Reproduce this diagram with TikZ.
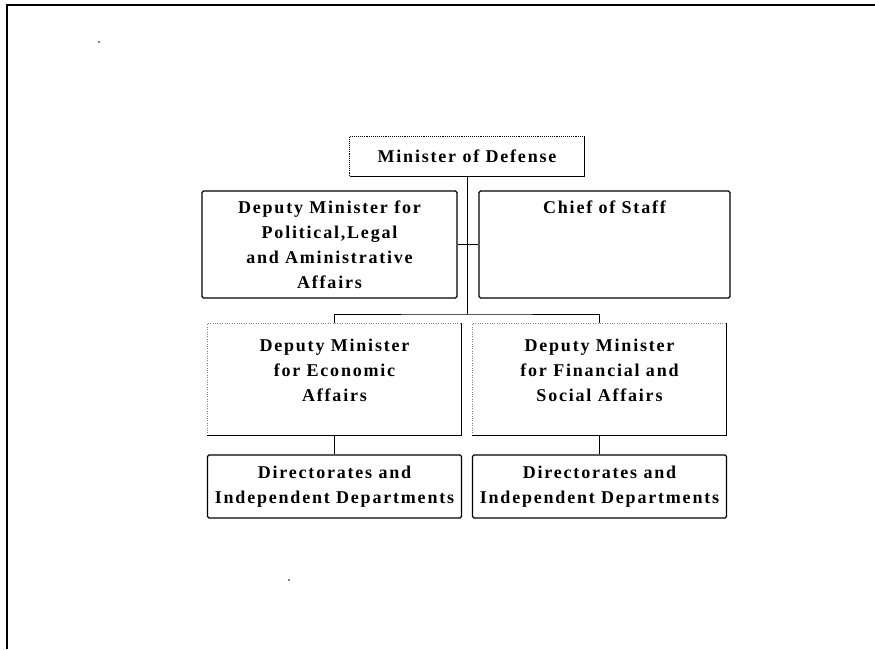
\documentclass[tikz,border=0pt]{standalone}
\usepackage{fontspec}
\setmainfont{Liberation Serif}[LetterSpace=10]
\usetikzlibrary{positioning,calc}

\begin{document}
\begin{tikzpicture}
[x=1pt,y=-1pt,
every node/.style={align=center,inner sep=0pt,font=\bfseries\fontsize{18}{25}\selectfont},
unit/.style={draw=black,line width=1.3pt,rounded corners=1.5pt},
office/.style={minimum width=254pt,minimum height=112pt},
dirs/.style={unit,minimum width=254pt,minimum height=63pt},
link/.style={line width=.8pt}]
\useasboundingbox (0,0) rectangle (875,649);
% page frame
\draw[line width=2pt] (7,649) -- (7,5) -- (875,5);
\fill (99,42) circle (.8pt);
\fill (289,580) circle (.8pt);

\node[minimum width=234pt,minimum height=39pt] (minister) at (467,156.5) {Minister of Defense};
\draw[densely dotted,line width=.9pt] (minister.south west) |- (minister.north east);
\draw[line width=1.3pt] (minister.north east) |- (minister.south west);
\node[unit,minimum width=255pt,minimum height=107pt] (dmpla) at (329.5,244.5)
  {Deputy Minister for\\Political,Legal\\and Aministrative\\Affairs};
\node[unit,minimum width=251pt,minimum height=107pt] (chief) at (604.5,244.5)
  {Chief of Staff\\\strut\\\strut\\[-8pt]\strut};

% second row, faint top and left edges
\node[office] (dmeco) at (334.5,379) {Deputy Minister\\for Economic\\Affairs\\[-14pt]\strut};
\node[office] (dmfin) at (599.5,379) {Deputy Minister\\for Financial and\\Social Affairs\\[-14pt]\strut};
\foreach \n in {dmeco,dmfin}{
  \draw[dotted,gray] (\n.south west) |- (\n.north east);
  \draw[line width=1.3pt] (\n.north east) |- (\n.south west);
}

\node[dirs] (direco) at (334.5,486.5) {Directorates and\\Independent Departments};
\node[dirs] (dirfin) at (599.5,486.5) {Directorates and\\Independent Departments};

% connectors
\coordinate (split) at (467,314);
\draw[link] (minister.south) -- (split);
\draw[link] (dmeco.north) |- (split) -| (dmfin.north);
\draw[link] (dmpla) -- (chief);
\draw[link] (dmeco) -- (direco);
\draw[link] (dmfin) -- (dirfin);
\end{tikzpicture}
\end{document}
